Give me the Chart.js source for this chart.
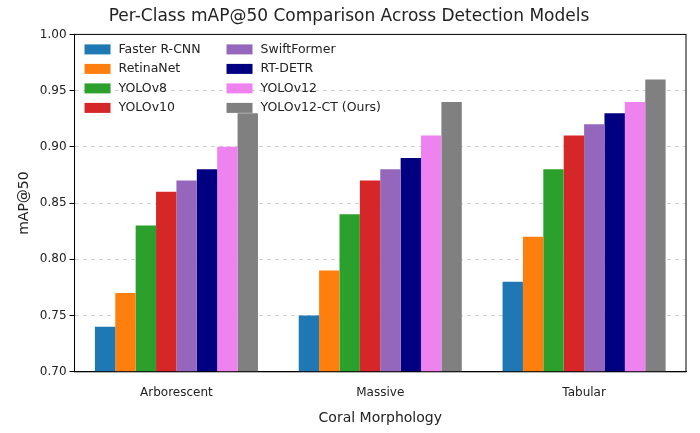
<!DOCTYPE html>
<html lang="en">
<head>
<meta charset="UTF-8">
<title>Per-Class mAP@50</title>
<script src="https://cdn.jsdelivr.net/npm/chart.js"></script>
<style>
  body { margin: 0; background: #fff; }
  #wrap { width: 700px; height: 433px; }
</style>
</head>
<body>
<div id="wrap"><canvas id="c"></canvas></div>
<script>
const categories = ['Arborescent', 'Massive', 'Tabular'];
const models = ['Faster R-CNN', 'RetinaNet', 'YOLOv8', 'YOLOv10', 'SwiftFormer', 'RT-DETR', 'YOLOv12', 'YOLOv12-CT (Ours)'];
const colors = ['#1f77b4', '#ff7f0e', '#2ca02c', '#d62728', '#9467bd', '#000080', '#ee82ee', '#808080'];
const fasterRcnn = [0.74, 0.75, 0.78];
const retinaNet = [0.77, 0.79, 0.82];
const yolov8 = [0.83, 0.84, 0.88];
const yolov10 = [0.86, 0.87, 0.91];
const swiftFormer = [0.87, 0.88, 0.92];
const rtDetr = [0.88, 0.89, 0.93];
const yolov12 = [0.90, 0.91, 0.94];
const yolov12ct = [0.93, 0.94, 0.96];
const series = [fasterRcnn, retinaNet, yolov8, yolov10, swiftFormer, rtDetr, yolov12, yolov12ct];

const font = 'DejaVu Sans, sans-serif';

// two-column legend drawn inside the plot, top-left
const legendPlugin = {
  id: 'twoColLegend',
  afterDraw(chart) {
    const ctx = chart.ctx, a = chart.chartArea;
    ctx.save();
    ctx.font = '12.5px ' + font;
    ctx.textBaseline = 'middle';
    models.forEach((m, i) => {
      const col = Math.floor(i / 4), row = i % 4;
      const x = a.left + 10 + col * 142, y = a.top + 15 + row * 19.5;
      ctx.fillStyle = colors[i];
      ctx.fillRect(x, y - 5, 26, 10);
      ctx.fillStyle = '#222';
      ctx.fillText(m, x + 34, y);
    });
    ctx.restore();
  }
};

const frame = {
  id: 'frame',
  afterDraw(chart) {
    const ctx = chart.ctx, a = chart.chartArea;
    ctx.save();
    ctx.strokeStyle = '#000';
    ctx.lineWidth = 1;
    ctx.setLineDash([]);
    ctx.strokeRect(a.left, a.top, a.right - a.left, a.bottom - a.top);
    ctx.restore();
  }
};

new Chart(document.getElementById('c'), {
  type: 'bar',
  data: {
    labels: categories,
    datasets: series.map((d, i) => ({
      label: models[i], data: d, backgroundColor: colors[i],
      barPercentage: 1, categoryPercentage: 0.8
    }))
  },
  options: {
    responsive: true, maintainAspectRatio: false, animation: false,
    layout: { padding: { left: 12, right: 14, top: 4, bottom: 2 } },
    plugins: {
      legend: { display: false },
      tooltip: { enabled: false },
      title: { display: true, text: 'Per-Class mAP@50 Comparison Across Detection Models',
        font: { family: font, size: 17, weight: 'normal' }, color: '#222', padding: { top: 2, bottom: 8 } }
    },
    scales: {
      x: {
        grid: { display: false },
        border: { color: '#000' },
        ticks: { color: '#222', font: { family: font, size: 12 }, padding: 6 },
        title: { display: true, text: 'Coral Morphology', color: '#222', font: { family: font, size: 14 }, padding: { top: 4 } }
      },
      y: {
        min: 0.70, max: 1.00,
        border: { color: '#000', dash: [4, 4] },
        grid: { color: 'rgba(0,0,0,0.18)', drawTicks: true, tickColor: '#000', tickLength: 5 },
        ticks: { stepSize: 0.05, color: '#222', font: { family: font, size: 12 }, callback: v => v.toFixed(2) },
        title: { display: true, text: 'mAP@50', color: '#222', font: { family: font, size: 14 } }
      }
    }
  },
  plugins: [legendPlugin, frame]
});
</script>
</body>
</html>
